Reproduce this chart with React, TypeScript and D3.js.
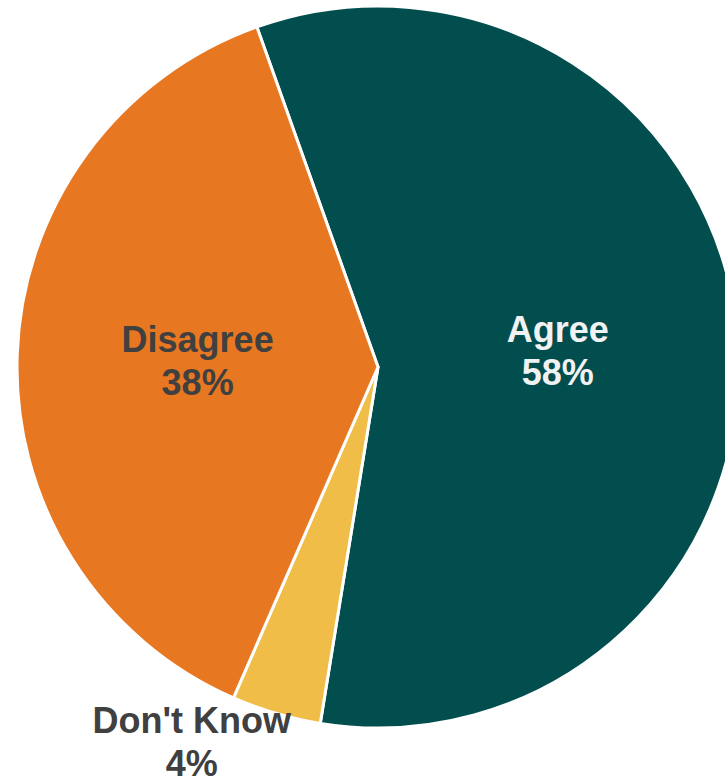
import React from "react";
import * as d3 from "d3";

const categories = ["Agree", "Don't Know", "Disagree"];
const values = [58, 4, 38];
const colors = ["#024E4F", "#F0BD48", "#E87722"];
const textColors = ["#F2F2F2", "#404040", "#404040"];

const W = 725;
const H = 778;
const cx = 378;
const cy = 367;
const R = 361;
const startDeg = -19.6;

export default function App() {
  const pie = d3
    .pie<number>()
    .sort(null)
    .value((d) => d)
    .startAngle((startDeg * Math.PI) / 180)
    .endAngle(((startDeg + 360) * Math.PI) / 180);
  const arcs = pie(values);
  const arc = d3.arc<d3.PieArcDatum<number>>().innerRadius(0).outerRadius(R);
  const labelArc = d3
    .arc<d3.PieArcDatum<number>>()
    .innerRadius(R * 0.5)
    .outerRadius(R * 0.5);

  const labelPos = (a: d3.PieArcDatum<number>, i: number): [number, number] => {
    const frac = (a.endAngle - a.startAngle) / (2 * Math.PI);
    if (frac < 0.1) {
      const mid = (a.startAngle + a.endAngle) / 2 + (10 * Math.PI) / 180;
      const r = R * 1.16;
      return [Math.sin(mid) * r, -Math.cos(mid) * r];
    }
    return labelArc.centroid(a) as [number, number];
  };

  return (
    <svg
      width={W}
      height={H}
      style={{ position: "absolute", left: 0, top: 0 }}
      fontFamily="'Liberation Sans', Arial, sans-serif"
    >
      <rect width={W} height={H} fill="#ffffff" />
      <g transform={`translate(${cx},${cy})`}>
        {arcs.map((a, i) => (
          <path key={i} d={arc(a) || ""} fill={colors[i]} stroke="#ffffff" strokeWidth={3} strokeLinejoin="round" />
        ))}
        {arcs.map((a, i) => {
          const [x, y] = labelPos(a, i);
          return (
            <text
              key={"t" + i}
              x={x}
              y={y}
              textAnchor="middle"
              fontSize={36}
              fontWeight="bold"
              fill={textColors[i]}
            >
              <tspan x={x} y={y - 9}>{categories[i]}</tspan>
              <tspan x={x} y={y + 34}>{values[i] + "%"}</tspan>
            </text>
          );
        })}
      </g>
    </svg>
  );
}
